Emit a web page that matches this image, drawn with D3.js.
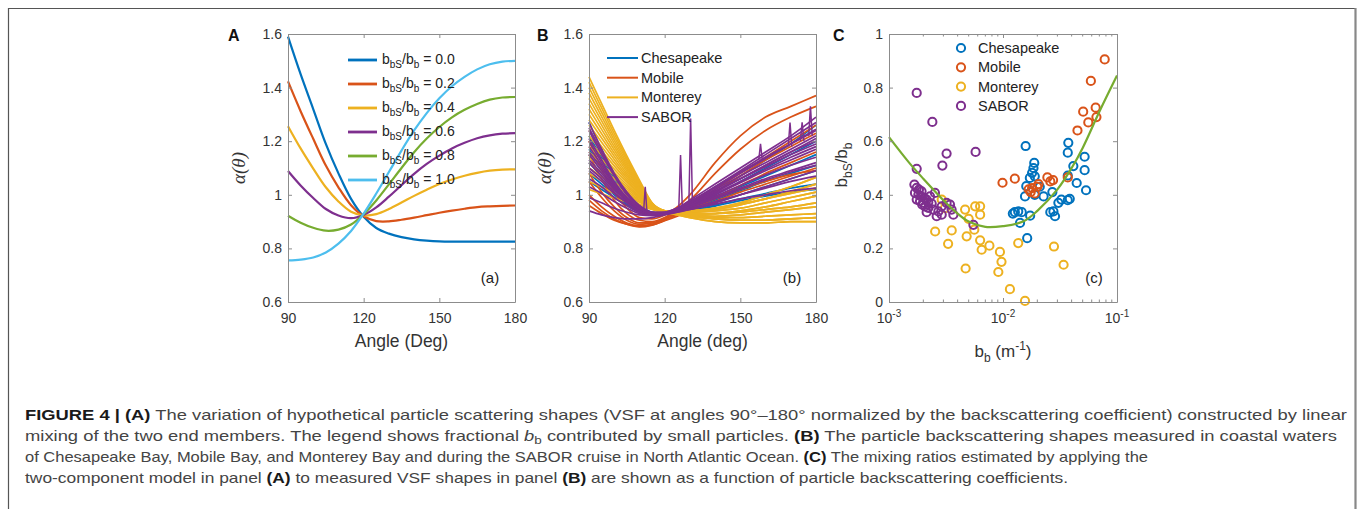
<!DOCTYPE html>
<html>
<head>
<meta charset="utf-8">
<script src="https://cdn.jsdelivr.net/npm/d3@7"></script>
<style>
  body { margin: 0; background: #fff; }
  svg { display: block; font-family: "Liberation Sans", Arial, sans-serif; }
</style>
</head>
<body>
<svg id="fig" width="1358" height="509"></svg>
<script>
// ---- Panel A: mixed scattering shapes ----
const anglesA = [90,95,100,105,110,115,120,125,130,135,140,145,150,155,160,165,170,175,180]
const mixRatios = ['0.0','0.2','0.4','0.6','0.8','1.0']
const shapeR00 = [1.59,1.45,1.32,1.19,1.08,0.985,0.918,0.876,0.855,0.842,0.834,0.829,0.826,0.825,0.825,0.825,0.825,0.825,0.825]
const shapeR02 = [1.423,1.312,1.209,1.109,1.028,0.961,0.920,0.902,0.901,0.907,0.915,0.924,0.933,0.941,0.948,0.954,0.957,0.959,0.960]
const shapeR04 = [1.256,1.173,1.098,1.028,0.975,0.937,0.923,0.928,0.947,0.971,0.996,1.019,1.040,1.057,1.071,1.082,1.090,1.094,1.095]
const shapeR06 = [1.089,1.035,0.988,0.947,0.923,0.913,0.925,0.953,0.993,1.036,1.078,1.115,1.146,1.173,1.194,1.211,1.222,1.228,1.230]
const shapeR08 = [0.922,0.896,0.877,0.866,0.870,0.889,0.928,0.979,1.039,1.100,1.159,1.210,1.253,1.289,1.317,1.339,1.355,1.363,1.365]
const shapeR10 = [0.755,0.758,0.766,0.785,0.818,0.865,0.930,1.005,1.085,1.165,1.240,1.305,1.360,1.405,1.440,1.468,1.487,1.497,1.500]

// ---- Panel B: measured shapes ----
const anglesB = [90,95,100,105,110,115,120,125,130,140,150,160,170,180]
const chesapeakeCurves = [
  [1.27,1.17,1.08,1.01,0.96,0.935,0.93,0.94,0.96,1.01,1.07,1.13,1.19,1.26],
  [1.22,1.14,1.06,1.0,0.955,0.935,0.932,0.942,0.958,1.0,1.05,1.10,1.15,1.20],
  [1.17,1.10,1.035,0.985,0.95,0.932,0.93,0.938,0.95,0.98,1.015,1.05,1.08,1.11],
  [1.12,1.07,1.02,0.975,0.945,0.93,0.93,0.936,0.945,0.97,1.0,1.03,1.06,1.09],
  [1.08,1.04,1.0,0.965,0.94,0.928,0.928,0.934,0.942,0.962,0.985,1.005,1.025,1.04],
  [1.05,1.02,0.99,0.96,0.935,0.925,0.927,0.932,0.94,0.958,0.978,0.995,1.01,1.02],
  [1.15,1.09,1.03,0.98,0.948,0.932,0.932,0.942,0.956,0.99,1.03,1.07,1.11,1.15]
]
const mobileCurves = [
  [1.20,1.10,1.01,0.95,0.915,0.91,0.925,0.955,1.0,1.12,1.22,1.29,1.33,1.37],
  [1.15,1.06,0.98,0.93,0.905,0.9,0.915,0.945,0.98,1.08,1.17,1.24,1.29,1.33],
  [1.05,0.99,0.94,0.905,0.89,0.895,0.91,0.93,0.955,1.01,1.07,1.13,1.18,1.23],
  [1.00,0.955,0.92,0.895,0.885,0.89,0.905,0.925,0.945,0.99,1.035,1.08,1.12,1.16],
  [0.96,0.93,0.905,0.89,0.882,0.888,0.903,0.92,0.94,0.975,1.01,1.04,1.07,1.10],
  [1.08,1.01,0.955,0.915,0.895,0.895,0.912,0.935,0.96,1.02,1.08,1.14,1.20,1.26],
  [0.98,0.94,0.91,0.89,0.88,0.887,0.905,0.925,0.945,0.985,1.02,1.05,1.075,1.09]
]
const montereyCurves = [
  [1.44,1.34,1.24,1.145,1.055,0.97,0.94,0.935,0.935,0.94,0.95,0.97,0.99,1.01],
  [1.42,1.324,1.228,1.137,1.05,0.969,0.938,0.925,0.915,0.90,0.895,0.895,0.90,0.90],
  [1.40,1.308,1.216,1.129,1.046,0.968,0.937,0.938,0.94,0.95,0.97,1.0,1.03,1.065],
  [1.38,1.292,1.204,1.12,1.041,0.966,0.94,0.93,0.925,0.92,0.925,0.935,0.945,0.955],
  [1.36,1.276,1.192,1.112,1.037,0.965,0.94,0.928,0.92,0.91,0.905,0.905,0.91,0.915],
  [1.34,1.26,1.18,1.104,1.032,0.964,0.938,0.936,0.936,0.945,0.962,0.985,1.012,1.04],
  [1.32,1.244,1.168,1.096,1.027,0.963,0.935,0.93,0.925,0.915,0.915,0.92,0.925,0.93],
  [1.30,1.228,1.156,1.088,1.023,0.962,0.94,0.934,0.936,0.948,0.965,0.985,1.005,1.025],
  [1.28,1.212,1.144,1.079,1.018,0.96,0.94,0.932,0.928,0.93,0.94,0.955,0.975,0.995],
  [1.26,1.196,1.132,1.071,1.014,0.959,0.94,0.93,0.93,0.93,0.935,0.945,0.955,0.97],
  [1.24,1.18,1.12,1.063,1.009,0.958,0.937,0.925,0.915,0.90,0.895,0.895,0.90,0.90],
  [1.22,1.164,1.108,1.055,1.004,0.957,0.935,0.935,0.935,0.94,0.95,0.97,0.99,1.01],
  [1.20,1.148,1.096,1.047,1.0,0.956,0.935,0.928,0.92,0.91,0.905,0.905,0.91,0.915],
  [1.18,1.132,1.084,1.038,0.995,0.954,0.935,0.938,0.94,0.95,0.97,1.0,1.03,1.065],
  [1.16,1.116,1.072,1.03,0.991,0.953,0.935,0.93,0.925,0.92,0.925,0.935,0.945,0.955],
  [1.14,1.10,1.06,1.022,0.986,0.952,0.935,0.93,0.925,0.915,0.915,0.92,0.925,0.93],
  [1.12,1.084,1.048,1.014,0.981,0.951,0.935,0.936,0.936,0.945,0.962,0.985,1.012,1.04],
  [1.10,1.068,1.036,1.006,0.977,0.95,0.936,0.932,0.928,0.93,0.94,0.955,0.975,0.995],
  [1.08,1.052,1.024,0.997,0.972,0.948,0.935,0.934,0.936,0.948,0.965,0.985,1.005,1.025],
  [1.05,1.028,1.006,0.985,0.965,0.947,0.935,0.93,0.93,0.93,0.935,0.945,0.955,0.97],
  [1.02,1.004,0.988,0.973,0.958,0.945,0.933,0.928,0.92,0.91,0.905,0.905,0.91,0.915]
]
const saborCurves = [
  [1.27,1.17,1.08,1.01,0.96,0.935,0.93,0.945,0.97,1.03,1.09,1.15,1.21,1.27],
  [1.24,1.15,1.07,1.00,0.955,0.935,0.935,0.95,0.975,1.03,1.085,1.14,1.19,1.24],
  [1.21,1.13,1.05,0.99,0.95,0.93,0.93,0.945,0.965,1.01,1.06,1.11,1.16,1.20],
  [1.18,1.11,1.04,0.985,0.945,0.93,0.932,0.942,0.96,1.0,1.045,1.09,1.13,1.17],
  [1.15,1.09,1.03,0.98,0.945,0.93,0.935,0.95,0.97,1.02,1.07,1.12,1.17,1.22],
  [1.12,1.07,1.02,0.975,0.94,0.925,0.93,0.945,0.962,1.005,1.05,1.095,1.14,1.18],
  [1.09,1.05,1.005,0.97,0.94,0.925,0.93,0.942,0.957,0.995,1.035,1.075,1.11,1.14],
  [1.06,1.03,0.99,0.96,0.935,0.925,0.93,0.94,0.953,0.985,1.02,1.055,1.085,1.11],
  [1.03,1.005,0.975,0.95,0.93,0.925,0.93,0.94,0.95,0.975,1.0,1.025,1.05,1.07],
  [0.99,0.97,0.95,0.935,0.925,0.922,0.928,0.936,0.945,0.965,0.985,1.0,1.015,1.025],
  [0.94,0.925,0.915,0.91,0.91,0.915,0.925,0.935,0.945,0.97,1.0,1.03,1.06,1.09],
  [1.20,1.12,1.045,0.99,0.95,0.93,0.932,0.95,0.98,1.04,1.10,1.16,1.22,1.29],
  [1.13,1.08,1.025,0.98,0.945,0.93,0.933,0.948,0.968,1.015,1.06,1.105,1.15,1.19],
  [1.25,1.16,1.075,1.005,0.955,0.932,0.93,0.94,0.955,0.99,1.025,1.06,1.09,1.12],
  [1.10,1.06,1.01,0.97,0.94,0.925,0.93,0.945,0.962,1.01,1.06,1.11,1.16,1.21],
  [1.16,1.10,1.035,0.985,0.948,0.93,0.933,0.95,0.972,1.025,1.08,1.135,1.19,1.245]
]
// narrow spikes seen in some SABOR spectra
const spikeAngles = [112.3,126.3,130.3,158,169.7,174.5,177.8]
const spikeBases  = [0.93,0.95,0.97,1.13,1.18,1.20,1.22]
const spikePeaks  = [1.03,1.148,1.285,1.19,1.27,1.27,1.33]

// ---- Panel C: mixing ratio vs bb ----
const chesapeakePts = [[1.58e-2,0.582],[1.88e-2,0.519],[1.85e-2,0.50],[1.8e-2,0.482],[1.9e-2,0.469],[1.72e-2,0.463],[1.6e-2,0.432],[1.56e-2,0.394],[1.9e-2,0.40],[2.27e-2,0.394],[2.71e-2,0.41],[1.27e-2,0.335],[1.36e-2,0.338],[1.46e-2,0.335],[1.22e-2,0.33],[1.41e-2,0.295],[1.73e-2,0.322],[1.63e-2,0.238],[2.77e-2,0.338],[3.06e-2,0.37],[3.25e-2,0.382],[3.7e-2,0.38],[3.85e-2,0.385],[2.86e-2,0.32],[2.6e-2,0.335],[3.74e-2,0.594],[3.7e-2,0.557],[4.14e-2,0.507],[5.2e-2,0.542],[5.2e-2,0.492],[5.35e-2,0.417],[4.43e-2,0.444],[3.7e-2,0.472],[2.1e-2,0.43]]
const mobilePts = [[7.8e-2,0.905],[5.9e-2,0.825],[5.05e-2,0.71],[6.5e-2,0.725],[5.6e-2,0.67],[6.6e-2,0.69],[4.5e-2,0.64],[3.7e-2,0.465],[1.27e-2,0.46],[9.9e-3,0.445],[2.45e-2,0.465],[2.75e-2,0.455],[2.6e-2,0.45],[2.05e-2,0.44],[1.8e-2,0.425],[1.68e-2,0.42],[1.9e-2,0.405],[2.0e-2,0.43],[1.75e-2,0.41]]
const montereyPts = [[2.9e-3,0.382],[3.1e-3,0.35],[4.65e-3,0.345],[5.7e-3,0.357],[6.3e-3,0.357],[6.3e-3,0.326],[5.0e-3,0.31],[5.6e-3,0.27],[2.54e-3,0.263],[3.55e-3,0.267],[3.3e-3,0.217],[4.8e-3,0.245],[6.3e-3,0.23],[6.5e-3,0.195],[7.6e-3,0.21],[9.4e-3,0.187],[9.7e-3,0.15],[9.1e-3,0.112],[4.7e-3,0.125],[1.15e-2,0.048],[1.56e-2,0.004],[1.36e-2,0.22],[2.8e-2,0.207],[3.4e-2,0.139]]
const saborPts = [[1.75e-3,0.78],[2.4e-3,0.672],[3.2e-3,0.554],[5.75e-3,0.56],[2.94e-3,0.509],[1.75e-3,0.497],[1.67e-3,0.438],[1.75e-3,0.426],[1.83e-3,0.419],[1.93e-3,0.413],[1.69e-3,0.407],[1.81e-3,0.401],[1.91e-3,0.394],[2.04e-3,0.388],[2.14e-3,0.382],[1.75e-3,0.382],[1.87e-3,0.376],[2.0e-3,0.37],[2.21e-3,0.372],[2.37e-3,0.367],[2.53e-3,0.407],[2.07e-3,0.357],[2.21e-3,0.351],[2.45e-3,0.345],[2.71e-3,0.338],[2.9e-3,0.357],[3.2e-3,0.37],[3.43e-3,0.363],[3.54e-3,0.345],[2.14e-3,0.335],[2.62e-3,0.32],[3.67e-3,0.326],[1.96e-3,0.363],[2.29e-3,0.394],[2.9e-3,0.326],[5.5e-3,0.288]]
const fitBb    = [1e-3,1.5e-3,2e-3,3e-3,4e-3,5e-3,7e-3,1e-2,1.5e-2,2e-2,3e-2,4e-2,5e-2,7e-2,1e-1]
const fitRatio = [0.615,0.52,0.46,0.38,0.33,0.30,0.28,0.283,0.30,0.34,0.42,0.50,0.575,0.71,0.845]

const siteNames = ['Chesapeake','Mobile','Monterey','SABOR']
const siteColors = ['#0072BD','#D95319','#EDB120','#7E2F8E']
const mixColors = ['#0072BD','#D95319','#EDB120','#7E2F8E','#77AC30','#4DBEEE']

const svg = d3.select('#fig')
const sans = '"Liberation Sans", Arial, sans-serif'
const axisGray = '#8c8c8c'
const textGray = '#333'
const plotH = 268

// outer frame of the figure
svg.append('path').attr('d', 'M8.5,509V8.5H1355').attr('fill', 'none').attr('stroke', '#555').attr('stroke-width', 1.2)
svg.append('line').attr('x1', 1355.5).attr('x2', 1355.5).attr('y1', 8).attr('y2', 509)
  .attr('stroke', '#888').attr('stroke-width', 2.2)

// box with inward ticks on all four sides, matlab style
function drawBox(g, x, y, w, xTicks, yTicks, xFmt, yFmt) {
  g.append('g').attr('transform', `translate(0,${plotH})`)
    .call(d3.axisBottom(x).tickValues(xTicks).tickSizeInner(-4).tickSizeOuter(0).tickPadding(11).tickFormat(xFmt))
  g.append('g')
    .call(d3.axisTop(x).tickValues(xTicks).tickSizeInner(-4).tickSizeOuter(0).tickFormat(''))
  g.append('g')
    .call(d3.axisLeft(y).tickValues(yTicks).tickSizeInner(-4).tickSizeOuter(0).tickPadding(6).tickFormat(yFmt))
  g.append('g').attr('transform', `translate(${w},0)`)
    .call(d3.axisRight(y).tickValues(yTicks).tickSizeInner(-4).tickSizeOuter(0).tickFormat(''))
  g.selectAll('.domain, .tick line').attr('stroke', axisGray)
  g.selectAll('.tick text').attr('fill', textGray).attr('font-size', 14).attr('font-family', sans)
}

const fmtAlpha = d => d === 1 ? '1' : d3.format('.1f')(d)

function panelLetter(txt, x) {
  svg.append('text').attr('x', x).attr('y', 41).attr('font-size', 16).attr('font-weight', 'bold')
    .attr('fill', '#111').text(txt)
}

function alphaLabel(cx) {
  svg.append('text').attr('transform', `translate(${cx},168) rotate(-90)`)
    .attr('text-anchor', 'middle').attr('dy', '0.35em')
    .attr('font-family', '"Liberation Serif", serif').attr('font-style', 'italic')
    .attr('font-size', 19).attr('fill', textGray).text('\u03b1(\u03b8)')
}

// ================= Panel A =================
const wA = 227
const gA = svg.append('g').attr('transform', 'translate(288,34)')
const xA = d3.scaleLinear().domain([90, 180]).range([0, wA])
const yA = d3.scaleLinear().domain([0.6, 1.6]).range([plotH, 0])
const lineA = d3.line().x((d, i) => xA(anglesA[i])).y(d => yA(d)).curve(d3.curveCatmullRom.alpha(0.5))
const shapesA = [shapeR00, shapeR02, shapeR04, shapeR06, shapeR08, shapeR10]

gA.selectAll('path.mix')
  .data(shapesA)
  .enter()
  .append('path')
    .attr('class', 'mix')
    .attr('d', lineA)
    .attr('fill', 'none')
    .attr('stroke', (d, i) => mixColors[i])
    .attr('stroke-width', 2.2)

drawBox(gA, xA, yA, wA, [90, 120, 150, 180], [0.6, 0.8, 1, 1.2, 1.4, 1.6], d3.format('d'), fmtAlpha)

// legend A
mixRatios.forEach((r, i) => {
  const ly = 26 + i * 24
  gA.append('line').attr('x1', 60).attr('x2', 89).attr('y1', ly).attr('y2', ly)
    .attr('stroke', mixColors[i]).attr('stroke-width', 2.8)
  const t = gA.append('text').attr('x', 94).attr('y', ly + 4).attr('font-size', 14).attr('fill', '#222')
  t.append('tspan').text('b')
  t.append('tspan').attr('dy', 4).attr('font-size', 10).text('bS')
  t.append('tspan').attr('dy', -4).text('/b')
  t.append('tspan').attr('dy', 4).attr('font-size', 10).text('b')
  t.append('tspan').attr('dy', -4).text(' = ' + r)
})
gA.append('text').attr('x', 202).attr('y', 249).attr('text-anchor', 'middle')
  .attr('font-size', 15).attr('fill', '#222').text('(a)')

svg.append('text').attr('x', 288 + wA / 2).attr('y', 347).attr('text-anchor', 'middle')
  .attr('font-size', 17.5).attr('fill', textGray).text('Angle (Deg)')
alphaLabel(238)
panelLetter('A', 228)

// ================= Panel B =================
const wB = 227
const gB = svg.append('g').attr('transform', 'translate(589,34)')
const xB = d3.scaleLinear().domain([90, 180]).range([0, wB])
const yB = d3.scaleLinear().domain([0.6, 1.6]).range([plotH, 0])
const lineB = d3.line().x((d, i) => xB(anglesB[i])).y(d => yB(d)).curve(d3.curveMonotoneX)
const groupsB = [chesapeakeCurves, mobileCurves, montereyCurves, saborCurves]

groupsB.forEach((curves, gi) => {
  gB.append('g')
    .selectAll('path')
    .data(curves)
    .enter()
    .append('path')
      .attr('d', lineB)
      .attr('fill', 'none')
      .attr('stroke', siteColors[gi])
      .attr('stroke-width', 1.7)
})

// spikes on top of sabor spectra
const spikeLine = d3.line().x(d => xB(d[0])).y(d => yB(d[1]))
spikeAngles.forEach((a, i) => {
  gB.append('path')
    .attr('d', spikeLine([[a - 0.7, spikeBases[i]], [a, spikePeaks[i]], [a + 0.7, spikeBases[i]]]))
    .attr('fill', 'none').attr('stroke', siteColors[3]).attr('stroke-width', 1.5)
})

drawBox(gB, xB, yB, wB, [90, 120, 150, 180], [0.6, 0.8, 1, 1.2, 1.4, 1.6], d3.format('d'), fmtAlpha)

siteNames.forEach((n, i) => {
  const ly = 24 + i * 19.7
  gB.append('line').attr('x1', 18).attr('x2', 49).attr('y1', ly).attr('y2', ly)
    .attr('stroke', siteColors[i]).attr('stroke-width', 2)
  gB.append('text').attr('x', 52).attr('y', ly + 5).attr('font-size', 14.5).attr('fill', '#222').text(n)
})
gB.append('text').attr('x', 203).attr('y', 249).attr('text-anchor', 'middle')
  .attr('font-size', 15).attr('fill', '#222').text('(b)')

svg.append('text').attr('x', 589 + wB / 2).attr('y', 347).attr('text-anchor', 'middle')
  .attr('font-size', 17.5).attr('fill', textGray).text('Angle (deg)')
alphaLabel(544)
panelLetter('B', 537)

// ================= Panel C =================
const wC = 228
const gC = svg.append('g').attr('transform', 'translate(889,34)')
const xC = d3.scaleLog().domain([1e-3, 1e-1]).range([0, wC])
const yC = d3.scaleLinear().domain([0, 1]).range([plotH, 0])

const groupsC = [chesapeakePts, mobilePts, montereyPts, saborPts]
groupsC.forEach((pts, gi) => {
  gC.append('g')
    .selectAll('circle')
    .data(pts)
    .enter()
    .append('circle')
      .attr('cx', d => xC(d[0]))
      .attr('cy', d => yC(d[1]))
      .attr('r', 4.1)
      .attr('fill', 'none')
      .attr('stroke', siteColors[gi])
      .attr('stroke-width', 2)
})

const fitLine = d3.line().x((d, i) => xC(fitBb[i])).y(d => yC(d)).curve(d3.curveCatmullRom.alpha(0.5))
gC.append('path').attr('d', fitLine(fitRatio)).attr('fill', 'none')
  .attr('stroke', '#77AC30').attr('stroke-width', 2.2)

drawBox(gC, xC, yC, wC, [1e-3, 1e-2, 1e-1], [0, 0.2, 0.4, 0.6, 0.8, 1], () => '', d => d === 0 || d === 1 ? String(d) : d3.format('.1f')(d))

// minor log ticks
const minorTicks = []
;[1e-3, 1e-2].forEach(dec => { for (let k = 2; k <= 9; k++) minorTicks.push(k * dec) })
minorTicks.forEach(v => {
  gC.append('line').attr('x1', xC(v)).attr('x2', xC(v)).attr('y1', plotH).attr('y2', plotH - 2.5).attr('stroke', axisGray)
  gC.append('line').attr('x1', xC(v)).attr('x2', xC(v)).attr('y1', 0).attr('y2', 2.5).attr('stroke', axisGray)
})
;[[1e-3, '-3'], [1e-2, '-2'], [1e-1, '-1']].forEach(([v, e]) => {
  const t = gC.append('text').attr('x', xC(v)).attr('y', plotH + 21).attr('text-anchor', 'middle')
    .attr('font-size', 14).attr('fill', textGray)
  t.append('tspan').text('10')
  t.append('tspan').attr('dy', -6).attr('font-size', 10).text(e)
})

siteNames.forEach((n, i) => {
  const ly = 14 + i * 19.3
  gC.append('circle').attr('cx', 72).attr('cy', ly).attr('r', 4.1)
    .attr('fill', 'none').attr('stroke', siteColors[i]).attr('stroke-width', 2)
  gC.append('text').attr('x', 89).attr('y', ly + 5).attr('font-size', 14.5).attr('fill', '#222').text(n)
})
gC.append('text').attr('x', 205).attr('y', 249).attr('text-anchor', 'middle')
  .attr('font-size', 15).attr('fill', '#222').text('(c)')

// axis titles C
const xt = svg.append('text').attr('x', 1003).attr('y', 357).attr('text-anchor', 'middle')
  .attr('font-size', 17).attr('fill', textGray)
xt.append('tspan').text('b')
xt.append('tspan').attr('dy', 5).attr('font-size', 12).text('b')
xt.append('tspan').attr('dy', -5).text(' (m')
xt.append('tspan').attr('dy', -7).attr('font-size', 12).text('-1')
xt.append('tspan').attr('dy', 7).text(')')

const yt = svg.append('text').attr('transform', 'translate(847,165) rotate(-90)')
  .attr('text-anchor', 'middle').attr('font-size', 17).attr('fill', textGray)
yt.append('tspan').text('b')
yt.append('tspan').attr('dy', 5).attr('font-size', 12).text('bS')
yt.append('tspan').attr('dy', -5).text('/b')
yt.append('tspan').attr('dy', 5).attr('font-size', 12).text('b')
panelLetter('C', 833)

// ================= Caption =================
const captionLines = [
  [['FIGURE 4 | (A)', 'b'], [' The variation of hypothetical particle scattering shapes (VSF at angles 90\u00b0\u2013180\u00b0 normalized by the backscattering coefficient) constructed by linear', '']],
  [['mixing of the two end members. The legend shows fractional ', ''], ['b', 'i'], ['b', 'sub'], [' contributed by small particles. ', ''], ['(B)', 'b'], [' The particle backscattering shapes measured in coastal waters', '']],
  [['of Chesapeake Bay, Mobile Bay, and Monterey Bay and during the SABOR cruise in North Atlantic Ocean. ', ''], ['(C)', 'b'], [' The mixing ratios estimated by applying the', '']],
  [['two-component model in panel ', ''], ['(A)', 'b'], [' to measured VSF shapes in panel ', ''], ['(B)', 'b'], [' are shown as a function of particle backscattering coefficients.', '']]
]
const captionWidths = [1322, 1312, 1123, 1043]

captionLines.forEach((segs, i) => {
  const t = svg.append('text').attr('x', 25).attr('y', 420 + i * 21)
    .attr('font-size', 15).attr('fill', '#444')
    .attr('textLength', captionWidths[i]).attr('lengthAdjust', 'spacingAndGlyphs')
  let shift = 0
  segs.forEach(([s, st]) => {
    const sp = t.append('tspan').text(s)
    const want = st === 'sub' ? 3 : 0
    if (want !== shift) { sp.attr('dy', want - shift); shift = want }
    if (st === 'b') sp.attr('font-weight', 'bold').attr('fill', '#1a1a1a')
    if (st === 'i') sp.attr('font-style', 'italic')
    if (st === 'sub') sp.attr('font-size', 11)
  })
})
</script>
</body>
</html>
